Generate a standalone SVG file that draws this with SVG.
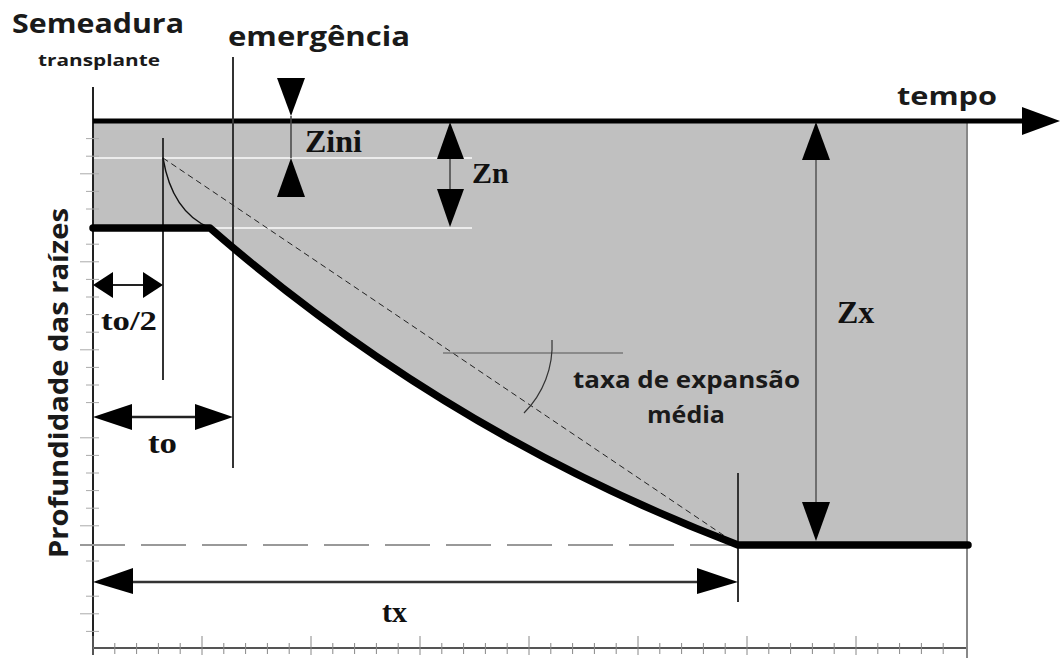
<svg xmlns="http://www.w3.org/2000/svg" width="1061" height="661" viewBox="0 0 1061 661">
<style>
.sans{font-family:"Open Sans","Liberation Sans",sans-serif;font-weight:bold;fill:#1a1a1a}
.serif{font-family:"Liberation Serif","Times New Roman",serif;font-weight:bold;fill:#111}
.thin{stroke:#333;stroke-width:2;fill:none}
.tri{fill:#000}
.tick{stroke:#aaa;stroke-width:1}
</style>
<rect width="1061" height="661" fill="#fff"/>
<g id="area">
<path d="M93,121 H967 V545 H738 Q446,433.5 210,228 H93 Z" fill="#c0c0c0"/>
<line x1="93" y1="158" x2="472" y2="158" stroke="#ececec" stroke-width="2"/>
<line x1="210" y1="228" x2="472" y2="228" stroke="#ececec" stroke-width="2"/>
</g>
<g id="axes">
<line x1="93" y1="87" x2="93" y2="655" stroke="#222" stroke-width="2"/>
<line x1="93" y1="648" x2="968" y2="648" stroke="#555" stroke-width="2"/>
<line x1="967" y1="121" x2="967" y2="658" stroke="#888" stroke-width="2"/>
<g id="yticks">
<line class="tick" x1="86" y1="138.6" x2="99" y2="138.6"/><line class="tick" x1="86" y1="156.2" x2="99" y2="156.2"/><line class="tick" x1="80" y1="173.8" x2="99" y2="173.8"/><line class="tick" x1="86" y1="191.4" x2="99" y2="191.4"/><line class="tick" x1="86" y1="209" x2="99" y2="209"/><line class="tick" x1="86" y1="244.2" x2="99" y2="244.2"/><line class="tick" x1="80" y1="261.8" x2="99" y2="261.8"/><line class="tick" x1="86" y1="279.4" x2="99" y2="279.4"/><line class="tick" x1="86" y1="297" x2="99" y2="297"/><line class="tick" x1="86" y1="314.6" x2="99" y2="314.6"/><line class="tick" x1="86" y1="332.2" x2="99" y2="332.2"/><line class="tick" x1="80" y1="349.8" x2="99" y2="349.8"/><line class="tick" x1="86" y1="367.4" x2="99" y2="367.4"/><line class="tick" x1="86" y1="385" x2="99" y2="385"/><line class="tick" x1="86" y1="402.6" x2="99" y2="402.6"/><line class="tick" x1="80" y1="437.8" x2="99" y2="437.8"/><line class="tick" x1="86" y1="455.4" x2="99" y2="455.4"/><line class="tick" x1="86" y1="473" x2="99" y2="473"/><line class="tick" x1="86" y1="490.6" x2="99" y2="490.6"/><line class="tick" x1="86" y1="508.2" x2="99" y2="508.2"/><line class="tick" x1="80" y1="525.8" x2="99" y2="525.8"/><line class="tick" x1="86" y1="561" x2="99" y2="561"/><line class="tick" x1="86" y1="596.2" x2="99" y2="596.2"/><line class="tick" x1="80" y1="613.8" x2="99" y2="613.8"/><line class="tick" x1="86" y1="631.4" x2="99" y2="631.4"/>
</g>
<g id="xticks" stroke="#888" stroke-width="1">
<line x1="93" y1="636" x2="93" y2="655"/><line x1="114.8" y1="643" x2="114.8" y2="654"/><line x1="136.6" y1="643" x2="136.6" y2="654"/><line x1="158.4" y1="643" x2="158.4" y2="654"/><line x1="180.2" y1="643" x2="180.2" y2="654"/><line x1="202" y1="636" x2="202" y2="655"/><line x1="223.8" y1="643" x2="223.8" y2="654"/><line x1="245.6" y1="643" x2="245.6" y2="654"/><line x1="267.4" y1="643" x2="267.4" y2="654"/><line x1="289.2" y1="643" x2="289.2" y2="654"/><line x1="311" y1="636" x2="311" y2="655"/><line x1="332.8" y1="643" x2="332.8" y2="654"/><line x1="354.6" y1="643" x2="354.6" y2="654"/><line x1="376.4" y1="643" x2="376.4" y2="654"/><line x1="398.2" y1="643" x2="398.2" y2="654"/><line x1="420" y1="636" x2="420" y2="655"/><line x1="441.8" y1="643" x2="441.8" y2="654"/><line x1="463.6" y1="643" x2="463.6" y2="654"/><line x1="485.4" y1="643" x2="485.4" y2="654"/><line x1="507.2" y1="643" x2="507.2" y2="654"/><line x1="529" y1="636" x2="529" y2="655"/><line x1="550.8" y1="643" x2="550.8" y2="654"/><line x1="572.6" y1="643" x2="572.6" y2="654"/><line x1="594.4" y1="643" x2="594.4" y2="654"/><line x1="616.2" y1="643" x2="616.2" y2="654"/><line x1="638" y1="636" x2="638" y2="655"/><line x1="659.8" y1="643" x2="659.8" y2="654"/><line x1="681.6" y1="643" x2="681.6" y2="654"/><line x1="703.4" y1="643" x2="703.4" y2="654"/><line x1="725.2" y1="643" x2="725.2" y2="654"/><line x1="747" y1="636" x2="747" y2="655"/><line x1="768.8" y1="643" x2="768.8" y2="654"/><line x1="790.6" y1="643" x2="790.6" y2="654"/><line x1="812.4" y1="643" x2="812.4" y2="654"/><line x1="834.2" y1="643" x2="834.2" y2="654"/><line x1="856" y1="636" x2="856" y2="655"/><line x1="877.8" y1="643" x2="877.8" y2="654"/><line x1="899.6" y1="643" x2="899.6" y2="654"/><line x1="921.4" y1="643" x2="921.4" y2="654"/><line x1="943.2" y1="643" x2="943.2" y2="654"/>
</g>
<line x1="93" y1="121" x2="1026" y2="121" stroke="#000" stroke-width="5"/>
<polygon class="tri" points="1022,107 1060,121 1022,135"/>
</g>
<g id="connectors">
<line class="thin" x1="233" y1="57" x2="233" y2="468" stroke="#444"/>
<line class="thin" x1="163" y1="138" x2="163" y2="380"/>
<line class="thin" x1="738" y1="473" x2="738" y2="602" stroke="#222"/>
<line x1="80" y1="545" x2="738" y2="545" stroke="#999" stroke-width="2" stroke-dasharray="45 16"/>
<line x1="163" y1="158" x2="738" y2="545" stroke="#222" stroke-width="1" stroke-dasharray="6 4"/>
<path d="M163,158 Q172,212 210,228" fill="none" stroke="#111" stroke-width="1.5"/>
<line x1="443" y1="353" x2="623" y2="353" stroke="#555" stroke-width="1"/>
<path d="M552,340 A96,96 0 0,1 524,413" fill="none" stroke="#333" stroke-width="1.2"/>
<path d="M93,228 H210 Q446,433.5 738,545 H968" fill="none" stroke="#000" stroke-width="7.5" stroke-linecap="round" stroke-linejoin="round"/>
</g>
<g id="zini">
<polygon class="tri" points="277,78 305,78 291,116"/>
<line x1="291" y1="116" x2="291" y2="158" stroke="#444" stroke-width="1.5"/>
<polygon class="tri" points="291,158 277,197 305,197"/>
<text class="serif" x="305" y="152" font-size="32">Zini</text>
</g>
<g id="zn">
<polygon class="tri" points="450,122 437,159 464,159"/>
<line x1="450" y1="159" x2="450" y2="189" stroke="#444" stroke-width="1.5"/>
<polygon class="tri" points="437,189 464,189 450,227"/>
<text class="serif" x="472" y="183" font-size="30">Zn</text>
</g>
<g id="zx">
<polygon class="tri" points="816,122 802,160 830,160"/>
<line x1="816" y1="160" x2="816" y2="502" stroke="#555" stroke-width="1.5"/>
<polygon class="tri" points="802,502 830,502 816,541"/>
<text class="serif" x="837" y="323" font-size="32">Zx</text>
</g>
<g id="to2">
<line x1="113" y1="285" x2="143" y2="285" stroke="#222" stroke-width="2"/>
<polygon class="tri" points="93,285 113,272 113,298"/>
<polygon class="tri" points="163,285 143,272 143,298"/>
<text class="serif" x="101" y="330" font-size="28" textLength="56" lengthAdjust="spacingAndGlyphs">to/2</text>
</g>
<g id="to">
<line x1="132" y1="417" x2="195" y2="417" stroke="#222" stroke-width="2.5"/>
<polygon class="tri" points="93,417 132,404 132,430"/>
<polygon class="tri" points="233,417 195,404 195,430"/>
<text class="serif" x="148" y="453" font-size="30" textLength="29" lengthAdjust="spacingAndGlyphs">to</text>
</g>
<g id="tx">
<line x1="133" y1="582" x2="697" y2="582" stroke="#333" stroke-width="2.5"/>
<polygon class="tri" points="93,582 133,568 133,594"/>
<polygon class="tri" points="738,582 697,568 697,594"/>
<text class="serif" x="382" y="622" font-size="30">tx</text>
</g>
<g id="labels">
<text class="sans" x="12" y="33" font-size="26" textLength="172" lengthAdjust="spacingAndGlyphs">Semeadura</text>
<text class="sans" x="38" y="66" font-size="16" textLength="122" lengthAdjust="spacingAndGlyphs">transplante</text>
<text class="sans" x="228" y="46" font-size="26" textLength="182" lengthAdjust="spacingAndGlyphs">emergência</text>
<text class="sans" x="897" y="105" font-size="25" textLength="100" lengthAdjust="spacingAndGlyphs">tempo</text>
<text class="sans" transform="translate(68,558) rotate(-90)" x="0" y="0" font-size="27" textLength="350" lengthAdjust="spacingAndGlyphs">Profundidade das raízes</text>
<text class="sans" x="573" y="388" font-size="23" textLength="227" lengthAdjust="spacingAndGlyphs">taxa de expansão</text>
<text class="sans" x="647" y="423" font-size="23" textLength="78" lengthAdjust="spacingAndGlyphs">média</text>
</g>
</svg>
